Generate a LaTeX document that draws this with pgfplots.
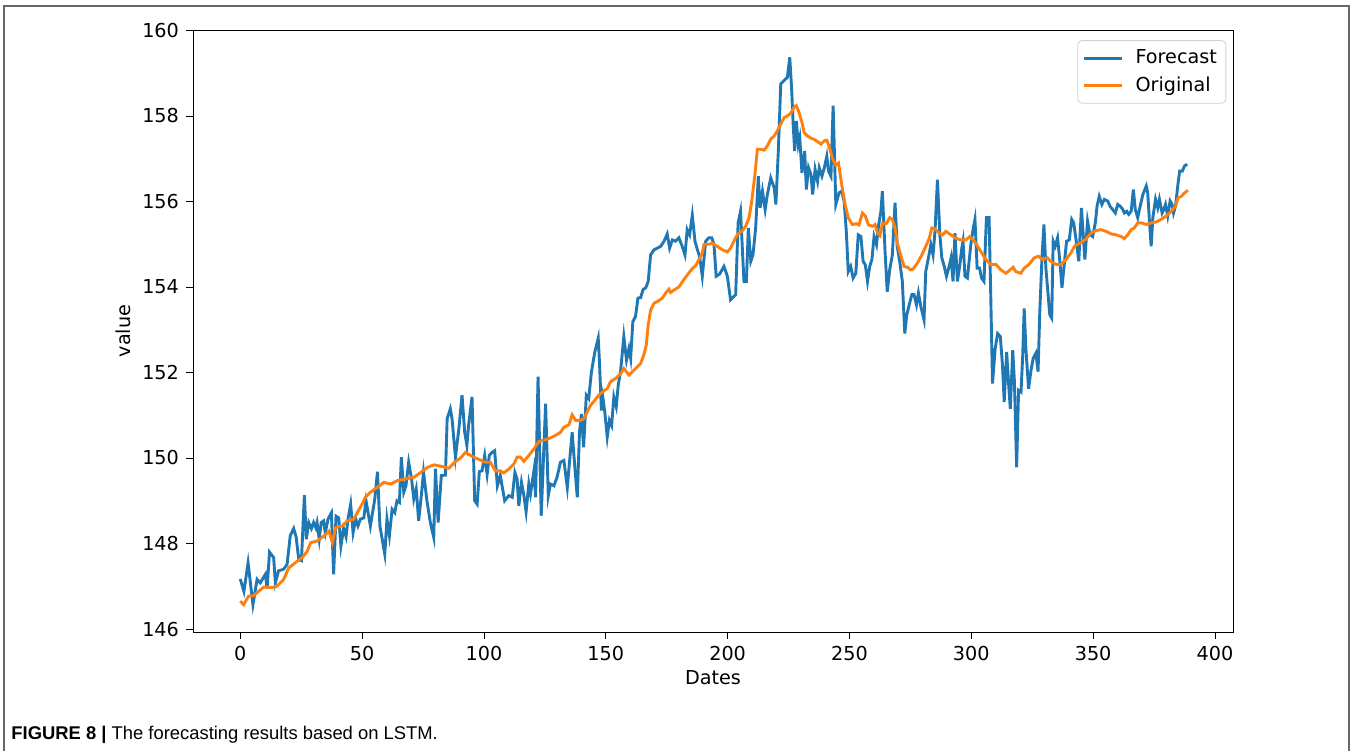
\documentclass[border=0pt]{standalone}
\usepackage{fontspec}
\setmainfont{DejaVu Sans}
\newfontfamily\capfont{Liberation Sans}
\usepackage{pgfplots}
\pgfplotsset{compat=1.18}
\definecolor{mplblue}{HTML}{1F77B4}
\definecolor{mplorange}{HTML}{FF7F0E}
\begin{document}
\begin{tikzpicture}
\useasboundingbox (0,0) rectangle (676pt,375pt);
\draw[line width=0.8pt, color=black!60] (2pt,-1pt) -- (2pt,372pt) -- (674.5pt,372pt) -- (674.5pt,-1pt);
\begin{axis}[
  at={(96.5pt,59pt)}, anchor=south west,
  scale only axis, width=520pt, height=301pt,
  xmin=-19.4, xmax=407.4, ymin=145.93, ymax=160.01,
  xtick={0,50,...,400}, ytick={146,148,...,160},
  xtick pos=left, ytick pos=left,
  tick align=outside, major tick length=3.5pt,
  every tick/.style={black, line width=0.4pt},
  axis line style={line width=0.4pt},
  tick label style={font=\fontsize{9.6}{11}\selectfont},
  label style={font=\fontsize{9.6}{11}\selectfont},
  /pgf/number format/assume math mode=true,
  /pgf/number format/1000 sep={},
  xlabel={Dates}, ylabel={value},
  xlabel style={yshift=2pt},
  ylabel style={yshift=-1pt},
  legend style={at={(0.9935,0.983)}, anchor=north east, draw=black!18, rounded corners=2pt,
    fill=white, font=\fontsize{9.6}{11}\selectfont, row sep=1pt, inner xsep=2.5pt, inner ysep=2.5pt,
    /tikz/every odd column/.append style={column sep=4pt}},
  legend cell align=left,
  legend image code/.code={\draw[#1, line width=1.45pt] (0pt,0pt) -- (19pt,0pt);},
]
\addplot[mplblue, line width=1.45pt] coordinates {
(0,147.17) (1.5,146.88) (3.2,147.55) (5.2,146.57) (6.9,147.16) (8.2,147.08) (10.3,147.28) (11.0,146.95) (12.0,147.80) (13.7,147.67) (14.4,147.08) (15.7,147.36) (17.8,147.40) (19.2,147.51) (20.5,148.18) (21.9,148.35) (22.9,148.16) (24.0,147.63) (25.1,147.60) (26.3,149.13) (27.1,148.10) (28.1,148.49) (29.2,148.35) (30.1,148.49) (31.0,148.37) (31.5,148.49) (32.4,148.10) (33.2,148.49) (34.2,148.53) (34.9,148.25) (36.0,148.57) (37.4,148.72) (38.3,147.28) (39.3,148.64) (40.4,148.60) (41.3,147.94) (42.4,148.35) (43.4,148.16) (44.2,148.57) (45.3,148.92) (46.3,148.25) (47.4,148.57) (48.3,148.41) (49.3,148.57) (50.7,148.60) (51.6,149.00) (53.4,148.41) (55.2,149.04) (56.3,149.68) (57.3,148.41) (59.3,147.75) (60.2,148.57) (61.2,148.18) (62.3,148.80) (63.4,148.72) (64.3,149.00) (65.3,148.96) (66.1,150.02) (67.1,149.20) (68.0,149.35) (69.1,149.90) (70.3,149.51) (71.2,149.04) (72.2,149.28) (73.2,148.53) (74.3,149.12) (75.2,149.67) (76.6,149.00) (78.0,148.49) (79.4,148.14) (80.1,149.75) (81.2,148.49) (82.5,149.59) (84.2,149.60) (84.9,150.92) (86.2,151.15) (86.9,150.92) (88.3,150.02) (89.7,150.68) (91.0,151.47) (92.1,150.60) (93.0,150.29) (93.7,150.76) (95.1,151.43) (96.2,149.00) (97.2,148.92) (98.1,149.68) (99.2,149.70) (100.3,150.06) (101.3,149.62) (102.2,150.06) (103.3,150.13) (104.4,150.17) (105.5,149.35) (106.7,149.59) (108.5,149.00) (110.2,149.12) (111.6,149.08) (112.7,149.66) (113.6,149.51) (114.3,148.88) (115.4,149.43) (116.4,149.12) (117.3,148.74) (118.4,149.39) (119.1,149.16) (120.5,149.70) (121.2,149.08) (122.2,151.90) (123.5,148.65) (125.3,151.27) (126.4,149.12) (127.3,149.39) (128.7,149.35) (130.0,149.55) (131.4,149.90) (132.8,149.94) (134.2,149.31) (135.1,149.90) (136.2,150.60) (137.3,149.78) (138.3,149.08) (139.2,150.60) (140.0,151.03) (140.9,150.25) (142.0,151.47) (143.0,151.39) (144.1,152.01) (145.5,152.48) (146.9,152.80) (147.4,152.25) (148.2,151.11) (148.8,151.41) (149.6,151.07) (150.6,150.49) (151.5,150.88) (152.4,150.76) (153.3,151.43) (154.3,151.20) (155.1,151.70) (156.1,152.05) (157.4,152.84) (158.5,152.29) (159.5,152.56) (160.2,152.33) (161.1,153.19) (162.2,153.31) (163.2,153.74) (164.3,153.75) (165.3,153.94) (166.4,153.98) (167.4,154.13) (168.4,154.75) (169.8,154.87) (171.2,154.91) (172.5,154.95) (173.9,155.07) (175.2,155.24) (176.2,154.91) (177.3,155.10) (178.6,155.07) (180.0,155.15) (181.1,154.99) (182.5,154.75) (183.4,155.34) (184.4,155.22) (185.5,155.68) (186.6,155.07) (187.6,154.87) (188.5,154.71) (189.6,154.25) (191.0,155.07) (192.3,155.15) (193.5,155.15) (194.4,154.99) (195.3,154.25) (196.7,154.30) (198.5,154.48) (199.9,154.25) (201.2,153.70) (203.3,153.82) (204.3,155.50) (205.3,155.77) (206.7,154.13) (207.7,154.13) (208.5,155.38) (209.5,154.60) (210.4,154.75) (211.5,155.38) (212.6,156.59) (213.3,155.85) (214.3,156.24) (215.4,155.81) (216.3,156.16) (217.7,156.55) (219.1,156.32) (219.8,155.93) (220.8,157.18) (221.8,158.75) (223.2,158.83) (224.5,158.90) (225.5,159.37) (226.3,158.59) (226.9,157.80) (227.5,157.18) (228.2,157.88) (229.0,157.33) (229.6,157.49) (230.5,156.67) (231.6,157.18) (232.3,156.28) (233.2,156.79) (234.2,156.63) (234.9,156.16) (235.9,156.75) (236.9,156.47) (237.6,156.79) (238.7,156.59) (239.7,156.79) (240.7,157.06) (241.4,156.71) (242.4,156.59) (243.3,158.24) (244.4,155.93) (245.7,156.20) (246.8,156.24) (247.8,156.01) (248.7,155.30) (249.5,154.36) (250.5,154.48) (251.5,154.21) (252.6,154.32) (253.6,155.22) (254.7,155.18) (255.6,154.60) (256.5,154.52) (257.4,154.13) (258.3,154.48) (259.2,154.64) (260.1,155.18) (261.1,154.99) (261.9,155.42) (262.9,155.77) (263.5,156.24) (264.6,154.83) (265.5,153.89) (266.5,154.40) (267.6,154.75) (268.7,155.97) (269.6,154.95) (270.6,154.60) (271.7,154.13) (272.7,152.91) (273.5,153.34) (274.5,153.58) (275.6,153.82) (276.5,153.82) (277.5,153.58) (278.3,153.86) (279.3,153.54) (280.6,153.23) (281.3,154.36) (282.4,154.68) (283.4,154.99) (284.3,154.75) (285.1,155.30) (286.1,156.51) (287.1,155.22) (287.9,154.68) (288.9,154.48) (289.8,154.25) (290.9,154.48) (291.7,154.68) (292.5,154.13) (293.3,155.26) (294.3,154.13) (295.3,154.52) (296.1,154.91) (296.6,155.07) (297.4,154.25) (298.4,154.21) (299.8,154.99) (300.7,155.34) (301.5,155.58) (302.4,154.44) (303.4,154.44) (304.2,154.21) (305.2,154.13) (306.2,155.62) (307.3,155.62) (308.0,153.74) (308.7,151.74) (309.8,152.56) (310.8,152.91) (311.9,152.84) (312.8,152.17) (313.5,151.31) (314.5,152.48) (315.3,151.74) (316.0,151.15) (317.0,152.52) (317.7,151.78) (318.6,149.78) (319.4,151.58) (320.4,151.54) (321.1,152.40) (321.7,153.50) (322.4,152.56) (323.5,151.62) (324.5,152.05) (325.4,152.33) (326.5,152.45) (327.4,152.02) (328.1,153.42) (329.0,154.68) (329.8,155.46) (330.6,154.44) (331.4,153.90) (332.2,153.35) (333.0,153.27) (333.6,155.07) (334.4,154.95) (335.4,155.15) (336.4,154.56) (337.2,153.98) (338.2,154.56) (339.1,155.07) (340.2,155.10) (341.2,155.58) (342.0,155.50) (343.0,155.10) (344.1,154.60) (345.2,155.85) (346.6,154.64) (347.7,155.54) (348.7,155.22) (349.8,155.18) (350.9,155.50) (351.6,155.89) (352.5,156.12) (353.6,155.93) (354.6,156.05) (356.0,156.01) (356.9,155.89) (358.0,155.81) (359.1,155.73) (360.1,155.93) (361.1,155.89) (362.2,155.81) (362.8,155.73) (363.8,155.77) (364.6,155.70) (365.6,155.77) (366.5,156.28) (367.3,155.81) (368.3,155.62) (369.3,155.89) (370.4,156.16) (371.8,156.36) (372.4,156.20) (373.1,155.54) (373.8,154.95) (374.5,155.62) (375.6,156.05) (376.5,155.85) (377.2,156.05) (378.3,155.73) (379.0,155.81) (379.7,155.93) (380.6,155.66) (381.6,156.01) (382.4,155.93) (383.0,155.73) (383.8,155.89) (384.8,156.40) (385.5,156.71) (386.6,156.71) (387.5,156.83) (388.6,156.87)
};
\addlegendentry{Forecast}
\addplot[mplorange, line width=1.45pt] coordinates {
(0,146.65) (1.4,146.57) (3.4,146.77) (5.5,146.78) (7.5,146.88) (9.6,146.98) (13,146.97) (15,147.00) (17.8,147.16) (19.9,147.43) (22.6,147.55) (25.4,147.67) (27.5,147.82) (28.9,148.02) (31.6,148.06) (34.4,148.18) (36.4,148.29) (37.8,148.02) (39.1,148.37) (41.9,148.41) (43.9,148.53) (46.6,148.57) (48.6,148.78) (50,148.92) (51.3,149.08) (53.4,149.20) (56.2,149.31) (58.9,149.43) (61.7,149.39) (64.4,149.47) (67.8,149.51) (71.3,149.55) (74,149.66) (76.8,149.78) (79.5,149.84) (82.9,149.80) (85.6,149.76) (88.3,149.92) (90.4,150.00) (92.4,150.13) (94.5,150.06) (96.5,150.00) (98.6,149.95) (100.6,149.90) (102.6,149.90) (104.7,149.70) (106.7,149.70) (108.1,149.65) (110.2,149.74) (112.3,149.86) (113.6,150.02) (115,150.02) (116.4,149.92) (118.4,150.06) (120.5,150.21) (122.6,150.39) (125.3,150.43) (127.3,150.47) (129.4,150.53) (131.4,150.60) (132.8,150.72) (134.9,150.78) (136.2,151.01) (137.6,150.88) (139.6,150.88) (141,150.92) (142.3,151.07) (143.7,151.23) (145.5,151.35) (147.1,151.47) (149.2,151.57) (150.6,151.62) (151.9,151.78) (154,151.86) (156.1,151.97) (157.4,152.09) (159.5,151.94) (161.5,152.05) (162.9,152.13) (164.3,152.21) (165.6,152.41) (166.6,152.64) (167.4,153.11) (168.4,153.46) (169.8,153.62) (171.2,153.66) (173.2,153.74) (174.5,153.85) (175.9,153.95) (176.6,153.87) (178.6,153.95) (180,154.00) (182,154.17) (184.1,154.33) (185.5,154.43) (186.9,154.50) (188.2,154.64) (189.6,154.79) (190.3,155.00) (192.3,155.00) (193.7,155.02) (195.7,154.95) (197.8,154.87) (199.9,154.82) (201.2,154.91) (202.6,155.07) (204,155.23) (206,155.31) (207.4,155.42) (208.8,155.62) (209.9,156.01) (211.2,156.63) (212.2,157.22) (213.6,157.22) (215,157.20) (216.3,157.30) (217.7,157.46) (219.1,157.53) (220.4,157.65) (221.8,157.81) (223.2,157.96) (224.5,158.00) (225.9,158.06) (227.2,158.20) (228.2,158.24) (229.3,158.08) (230.5,157.85) (231.4,157.61) (232.8,157.53) (234.2,157.48) (235.5,157.45) (236.9,157.40) (238.3,157.34) (239.7,157.42) (240.7,157.43) (241.8,157.26) (243.1,156.99) (244.4,156.85) (245.5,156.90) (246.8,156.40) (248.2,155.93) (249.5,155.62) (251.2,155.46) (252.8,155.48) (253.9,155.45) (255.3,155.73) (256.5,155.66) (257.8,155.45) (259.5,155.42) (260.5,155.46) (261.5,155.26) (262.5,155.20) (263.5,155.48) (265.1,155.48) (266.5,155.62) (267.6,155.58) (268.7,155.38) (269.6,155.03) (271,154.75) (272.4,154.48) (273.8,154.46) (275.1,154.40) (276.1,154.42) (277.9,154.56) (279.7,154.75) (281.3,154.95) (282.7,155.13) (283.8,155.38) (285.1,155.36) (286.8,155.26) (288.2,155.22) (289.5,155.30) (291.6,155.22) (293.6,155.14) (295.7,155.10) (297.8,155.10) (299.4,155.18) (301.2,155.07) (302.6,154.95) (303.9,154.83) (306,154.64) (308,154.52) (310.1,154.53) (312.1,154.40) (314.2,154.32) (315.5,154.38) (317.2,154.46) (318.2,154.36) (320.3,154.32) (321.7,154.44) (323.7,154.53) (325.8,154.68) (327.5,154.72) (329.2,154.64) (331.2,154.68) (332.6,154.60) (334.7,154.53) (336.7,154.52) (338.8,154.64) (340.8,154.79) (342.6,154.97) (344.9,155.03) (347,155.12) (349.1,155.26) (351.2,155.32) (353.2,155.34) (355.3,155.30) (357.4,155.24) (359.4,155.22) (361.5,155.18) (362.8,155.13) (364.2,155.22) (365.6,155.34) (366.9,155.38) (368.3,155.50) (369.7,155.50) (371.8,155.46) (373.8,155.50) (375.9,155.52) (377.9,155.58) (380,155.66) (382.1,155.77) (383.8,155.89) (384.8,156.08) (386.2,156.12) (387.5,156.20) (388.9,156.26)
};
\addlegendentry{Original}
\end{axis}
\node[anchor=base west, inner sep=0pt, font=\capfont\fontsize{9.2}{11}\selectfont] at (5.5pt,5.5pt) {\textbf{FIGURE 8 |} The forecasting results based on LSTM.};
\end{tikzpicture}
\end{document}
